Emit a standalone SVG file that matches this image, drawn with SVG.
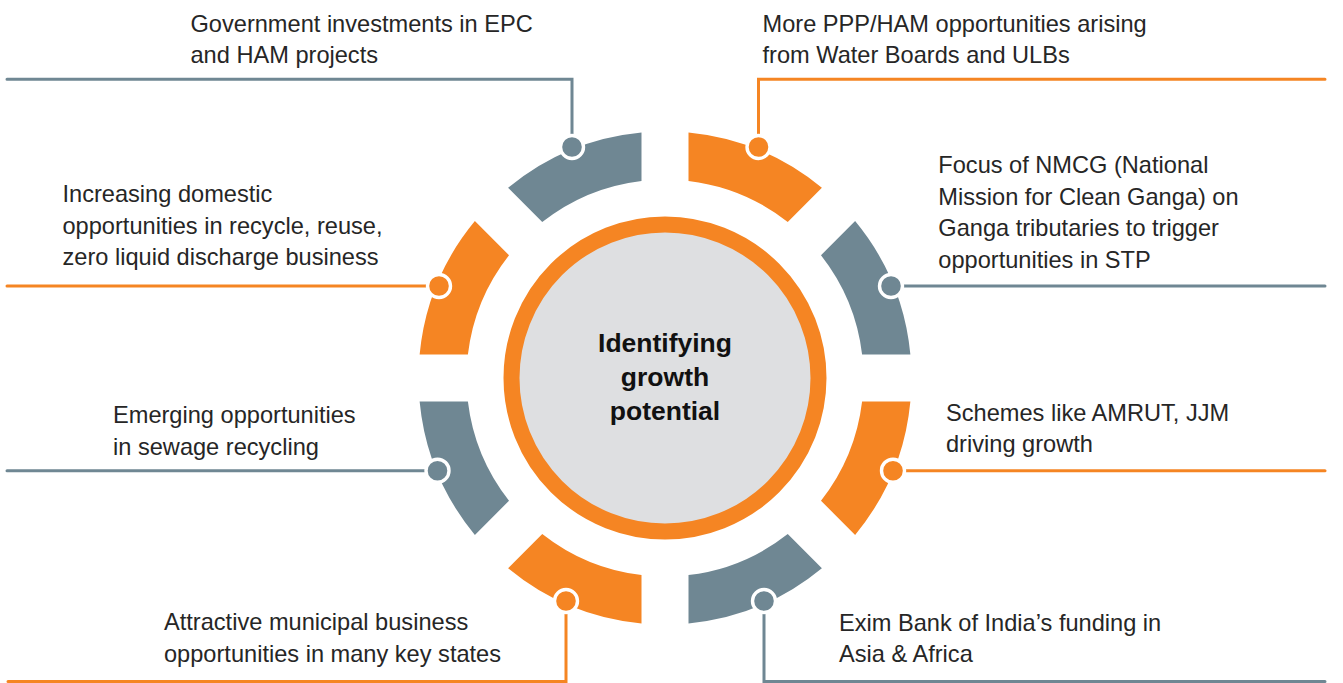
<svg xmlns="http://www.w3.org/2000/svg" xmlns:xlink="http://www.w3.org/1999/xlink" width="1343" height="683" viewBox="0 0 1343 683">
<style>
.t{font-family:"Liberation Sans",Arial,sans-serif;font-size:23.6px;fill:#262626;}
.c{font-family:"Liberation Sans",Arial,sans-serif;font-size:26.5px;font-weight:bold;fill:#111111;text-anchor:middle;}
.or{fill:#F58523;}
.gr{fill:#6F8793;}
.lo{fill:none;stroke:#F58523;stroke-width:3;stroke-linecap:round;stroke-linejoin:miter;}
.lg{fill:none;stroke:#6F8793;stroke-width:3;stroke-linecap:round;stroke-linejoin:miter;}
.dot{stroke:#FFFFFF;stroke-width:3.4;}
</style>
<defs>
<path id="seg" d="M23.5,-245.38 A246.5,246.5 0 0 1 156.89,-190.13 L122.75,-155.99 A198.5,198.5 0 0 0 23.5,-197.1 Z"/>
</defs>
<rect width="1343" height="683" fill="#FFFFFF"/>
<g id="connectors">
<path class="lg" d="M7,79.3 H572 V147"/>
<path class="lo" d="M758.5,147 V79.3 H1325"/>
<path class="lo" d="M7,286 H439"/>
<path class="lg" d="M891,286 H1325"/>
<path class="lg" d="M7,470.7 H437.5"/>
<path class="lo" d="M893,470.7 H1325"/>
<path class="lo" d="M566,601 V681.5 H8"/>
<path class="lg" d="M764,601 V681.5 H1325"/>
</g>
<g id="hub">
<circle cx="665" cy="378" r="153.5" fill="#DEDFE1" stroke="#F58523" stroke-width="16"/>
<text class="c" x="665" y="352">Identifying</text>
<text class="c" x="665" y="386">growth</text>
<text class="c" x="665" y="420">potential</text>
</g>
<g id="node-ppp">
<use xlink:href="#seg" class="or" transform="translate(665,378) rotate(0)"/>
<circle class="or dot" cx="758.5" cy="147" r="11.5"/>
<text class="t" x="762.5" y="31.7">More PPP/HAM opportunities arising</text>
<text class="t" x="762.5" y="63.2">from Water Boards and ULBs</text>
</g>
<g id="node-nmcg">
<use xlink:href="#seg" class="gr" transform="translate(665,378) rotate(45)"/>
<circle class="gr dot" cx="891" cy="286" r="11.5"/>
<text class="t" x="938.3" y="173.3">Focus of NMCG (National</text>
<text class="t" x="938.3" y="204.8">Mission for Clean Ganga) on</text>
<text class="t" x="938.3" y="236.3">Ganga tributaries to trigger</text>
<text class="t" x="938.3" y="267.8">opportunities in STP</text>
</g>
<g id="node-amrut">
<use xlink:href="#seg" class="or" transform="translate(665,378) rotate(90)"/>
<circle class="or dot" cx="893" cy="470.7" r="11.5"/>
<text class="t" x="946" y="420.7">Schemes like AMRUT, JJM</text>
<text class="t" x="946" y="452.2">driving growth</text>
</g>
<g id="node-exim">
<use xlink:href="#seg" class="gr" transform="translate(665,378) rotate(135)"/>
<circle class="gr dot" cx="764" cy="601" r="11.5"/>
<text class="t" x="839" y="630.5">Exim Bank of India’s funding in</text>
<text class="t" x="839" y="662">Asia &amp; Africa</text>
</g>
<g id="node-municipal">
<use xlink:href="#seg" class="or" transform="translate(665,378) rotate(180)"/>
<circle class="or dot" cx="566" cy="601" r="11.5"/>
<text class="t" x="164" y="630">Attractive municipal business</text>
<text class="t" x="164" y="661.5">opportunities in many key states</text>
</g>
<g id="node-sewage">
<use xlink:href="#seg" class="gr" transform="translate(665,378) rotate(225)"/>
<circle class="gr dot" cx="437.5" cy="470.7" r="11.5"/>
<text class="t" x="113" y="423.3">Emerging opportunities</text>
<text class="t" x="113" y="454.8">in sewage recycling</text>
</g>
<g id="node-recycle">
<use xlink:href="#seg" class="or" transform="translate(665,378) rotate(270)"/>
<circle class="or dot" cx="439" cy="286" r="11.5"/>
<text class="t" x="62.5" y="202.3">Increasing domestic</text>
<text class="t" x="62.5" y="233.8">opportunities in recycle, reuse,</text>
<text class="t" x="62.5" y="265.3">zero liquid discharge business</text>
</g>
<g id="node-government">
<use xlink:href="#seg" class="gr" transform="translate(665,378) rotate(315)"/>
<circle class="gr dot" cx="572" cy="147" r="11.5"/>
<text class="t" x="190.5" y="31.7">Government investments in EPC</text>
<text class="t" x="190.5" y="63.2">and HAM projects</text>
</g>
</svg>
